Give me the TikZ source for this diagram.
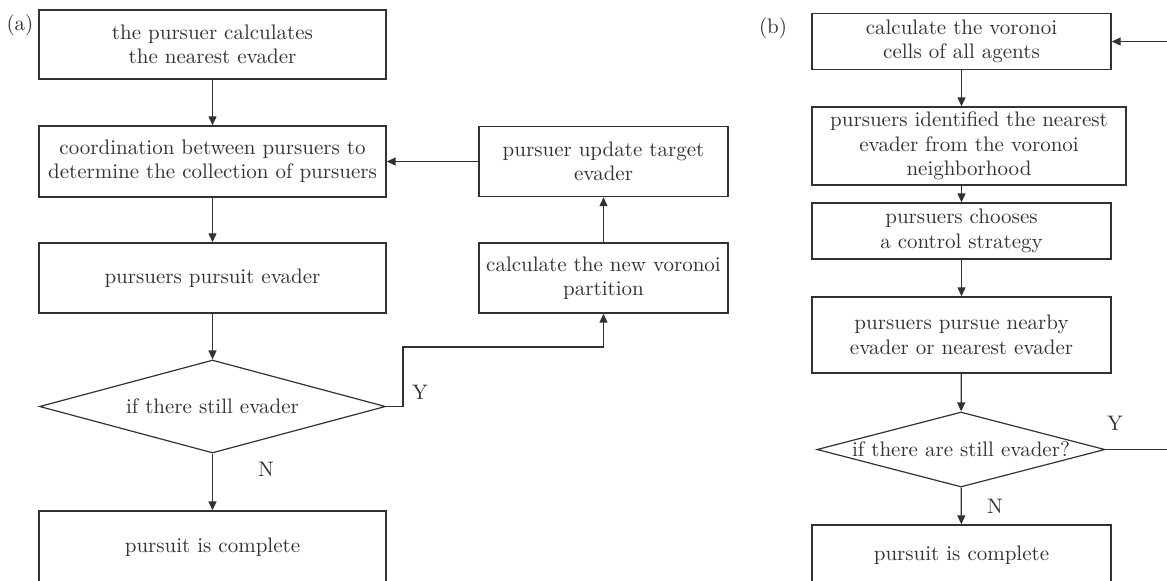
\documentclass[tikz,border=0pt]{standalone}
\usetikzlibrary{shapes.geometric,arrows.meta}

\definecolor{inkgray}{RGB}{50,50,50}

\tikzset{
    box/.style={draw=inkgray, line width=0.7pt, align=center, text=inkgray, inner sep=2pt},
    decision/.style={draw=inkgray, line width=0.6pt, diamond, inner sep=0pt, text=inkgray},
    flow/.style={draw=inkgray, line width=0.6pt, -{Triangle[length=4.5pt,width=4pt]}},
    plain/.style={draw=inkgray, line width=0.6pt},
    tag/.style={text=inkgray},
}

\begin{document}
\begin{tikzpicture}[x=0.5pt, y=-0.5pt, font=\fontsize{10.5}{12.2}\selectfont]
    \useasboundingbox (0,0) rectangle (1167,580);

    % left chart
    \node[tag] (taga) at (20,25) {(a)};
    \node[box, minimum width=173.5pt, minimum height=34.5pt] (pa1) at (212.5,44.5)
        {the pursuer calculates\\the nearest evader};
    \node[box, minimum width=173.5pt, minimum height=35.5pt] (pa2) at (212.5,161.5)
        {coordination between pursuers to\\determine the collection of pursuers};
    \node[box, minimum width=173.5pt, minimum height=35pt] (pa3) at (212.5,278)
        {pursuers pursuit evader};
    \node[decision, minimum width=173pt, minimum height=46.5pt,
        label={[tag, name=da text]center:if there still evader}] (da) at (212.5,406.5) {};
    \node[box, minimum width=173.5pt, minimum height=36pt] (pa4) at (212.5,547)
        {pursuit is complete};

    \node[box, minimum width=124.5pt, minimum height=35pt] (pu) at (603.5,161.5)
        {pursuer update target\\evader};
    \node[box, minimum width=124.5pt, minimum height=35pt] (pc) at (603.5,278)
        {calculate the new voronoi\\partition};

    \node[tag] (ya) at (420,392) {Y};
    \node[tag] (na) at (266,469) {N};
    \coordinate (ybend) at (403,347);

    \draw[flow] (pa1) -- (pa2);
    \draw[flow] (pa2) -- (pa3);
    \draw[flow] (pa3) -- (da);
    \draw[flow] (da) -- (pa4);
    \draw[flow] (da.east) -| (ybend) -| (pc.south);
    \draw[flow] (pc) -- (pu);
    \draw[flow] (pu) -- (pa2);

    % right chart
    \node[tag] (tagb) at (773,28) {(b)};
    \node[box, minimum width=149.5pt, minimum height=28pt] (b1) at (961.5,41.5)
        {calculate the voronoi\\cells of all agents};
    \node[box, minimum width=157pt, minimum height=39pt] (b2) at (969,146)
        {pursuers identified the nearest\\evader from the voronoi\\neighborhood};
    \node[box, minimum width=149.5pt, minimum height=28pt] (b3) at (961.5,231)
        {pursuers chooses\\a control strategy};
    \node[box, minimum width=149.5pt, minimum height=38pt] (b4) at (961.5,335)
        {pursuers pursue nearby\\evader or nearest evader};
    \node[decision, minimum width=144pt, minimum height=37.5pt,
        label={[tag, name=db text]center:if there are still evader?}] (db) at (961,449.5) {};
    \node[box, minimum width=149.5pt, minimum height=30pt] (b5) at (961.5,555)
        {pursuit is complete};

    \node[tag] (yb) at (1115,423) {Y};
    \node[tag] (nb) at (995,506) {N};
    \coordinate (loopin) at (1167,41.5);
    \coordinate (loopout) at (1167,449.5);

    \draw[flow] (b1) -- (b1.south |- b2.north);
    \draw[flow] (b3.north |- b2.south) -- (b3);
    \draw[flow] (b3) -- (b4);
    \draw[flow] (b4) -- (db);
    \draw[flow] (db) -- (b5);
    \draw[plain] (db.east) -- (loopout);
    \draw[flow] (loopin) -- (b1);
\end{tikzpicture}
\end{document}
